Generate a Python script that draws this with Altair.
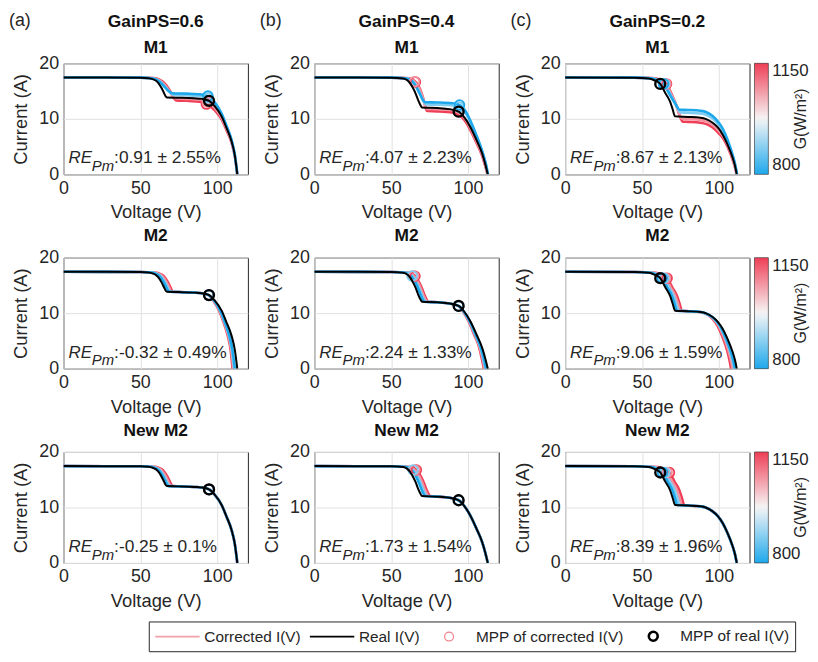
import altair as alt
import pandas as pd

# ---------------- values ----------------
X_TICKS = [0, 50, 100]
Y_TICKS = [0, 10, 20]
G_LEVELS = [1150, 1070, 880, 800]          # irradiance of the corrected curves (draw order)
COLS = ["a", "b", "c"]
GAIN_TITLES = ["GainPS=0.6", "GainPS=0.4", "GainPS=0.2"]
MODELS = ["M1", "M2", "New M2"]
RE_A = [":0.91 ± 2.55%", ":-0.32 ± 0.49%", ":-0.25 ± 0.1%"]
RE_B = [":4.07 ± 2.23%", ":2.24 ± 1.33%", ":1.73 ± 1.54%"]
RE_C = [":8.67 ± 2.13%", ":9.06 ± 1.59%", ":8.39 ± 1.96%"]
ITEMS = ["Corrected I(V)", "Real I(V)", "MPP of corrected I(V)", "MPP of real I(V)"]
G_TITLE = "G(W/m²)"

# real I(V) curves (V, I)
REAL_A = [(0, 17.45), (50, 17.42), (55.5, 17.32), (58, 17.15), (60, 16.9), (62, 16.35), (63.9, 15.5), (65.5, 14.6), (66.5, 14.05), (67.3, 13.85), (75, 13.8), (85, 13.7), (90, 13.6), (94.7, 13.25), (98.5, 12.25), (102.9, 10.45), (106, 8.4), (109.3, 6.0), (111.5, 3.4), (113.1, 0)]
REAL_B = [(0, 17.45), (50, 17.42), (57.9, 17.28), (60.5, 16.95), (62.5, 16.35), (64.3, 15.5), (66, 14.5), (67.5, 13.4), (69, 12.5), (70.1, 12.05), (80, 11.95), (88, 11.75), (93.9, 11.3), (97.5, 10.3), (101.8, 8.4), (105.5, 6.2), (109.3, 3.7), (111.3, 1.8), (112.9, 0)]
REAL_C = [(0, 17.45), (45, 17.42), (54.5, 17.28), (58, 16.95), (61.9, 16.3), (65.1, 14.7), (68.3, 13.1), (70, 11.7), (71.5, 10.45), (80, 10.35), (88, 10.2), (91.8, 9.95), (96, 9.3), (99.5, 8.4), (102.5, 7.2), (105.5, 5.5), (108.9, 3.1), (110.5, 1.6), (111.7, 0)]
MPP_REAL = [(94.7, 13.25), (93.9, 11.3), (61.9, 16.3)]

# corrected I(V) curves, GainPS = 0.6
A_M1_1150 = [(0, 17.45), (50, 17.42), (58.5, 17.37), (61.5, 17.2), (64.3, 16.75), (67, 16.0), (70, 14.7), (72.2, 13.6), (73.3, 13.32), (80, 13.25), (90, 13.0), (93, 12.65), (98.5, 11.55), (102.9, 9.9), (106, 8.0), (109.3, 5.7), (111.5, 3.2), (113.1, 0)]
A_M1_1070 = [(0, 17.45), (50, 17.42), (58, 17.35), (61, 17.15), (63.8, 16.7), (66.5, 15.9), (69.3, 14.8), (71.3, 13.95), (72.5, 13.7), (80, 13.6), (90, 13.4), (93.5, 13.05), (98.5, 11.95), (102.9, 10.2), (106, 8.25), (109.3, 5.85), (111.5, 3.3), (113.1, 0)]
A_M1_880 = [(0, 17.45), (50, 17.42), (57.5, 17.32), (60.5, 17.1), (63, 16.7), (65.6, 15.95), (68.2, 15.1), (70.3, 14.5), (71.5, 14.32), (80, 14.25), (90, 14.05), (94, 13.75), (98.5, 12.65), (102.9, 10.75), (106, 8.65), (109.3, 6.15), (111.5, 3.45), (113.1, 0)]
A_M1_800 = [(0, 17.45), (50, 17.42), (57, 17.32), (60, 17.1), (62.5, 16.7), (65, 16.0), (67.5, 15.25), (69.5, 14.8), (70.7, 14.62), (80, 14.55), (90, 14.4), (94, 14.1), (98.5, 12.95), (102.9, 10.95), (106, 8.8), (109.3, 6.25), (111.5, 3.5), (113.1, 0)]
A_M2_1150 = [(0, 17.45), (50, 17.42), (59.7, 17.32), (62.2, 17.15), (64.2, 16.9), (66.2, 16.35), (68.1, 15.5), (69.7, 14.6), (70.7, 14.05), (71.5, 13.85), (75, 13.8), (85, 13.7), (90, 13.6), (94.4, 13.25), (97.8, 12.15), (101.4, 10.35), (104.1, 8.4), (106.9, 5.9), (108.8, 3.3), (110, 0)]
A_M2_1070 = [(0, 17.45), (50, 17.42), (58.8, 17.32), (61.3, 17.15), (63.3, 16.9), (65.3, 16.35), (67.2, 15.5), (68.8, 14.6), (69.8, 14.05), (70.6, 13.85), (75, 13.8), (85, 13.7), (90, 13.6), (94.5, 13.25), (98, 12.15), (101.7, 10.35), (104.4, 8.4), (107.3, 5.9), (109.2, 3.3), (110.5, 0)]
A_M2_880 = [(0, 17.45), (50, 17.42), (57.8, 17.32), (60.3, 17.15), (62.3, 16.9), (64.3, 16.35), (66.2, 15.5), (67.8, 14.6), (68.8, 14.05), (69.6, 13.85), (75, 13.8), (85, 13.7), (90, 13.6), (94.5, 13.25), (98.2, 12.2), (102, 10.4), (104.8, 8.4), (107.7, 5.9), (109.6, 3.3), (111, 0)]
A_M2_800 = [(0, 17.45), (50, 17.42), (57, 17.32), (59.5, 17.15), (61.5, 16.9), (63.5, 16.35), (65.4, 15.5), (67, 14.6), (68, 14.05), (68.8, 13.85), (75, 13.8), (85, 13.7), (90, 13.6), (94.5, 13.25), (98.3, 12.2), (102.2, 10.4), (105, 8.4), (108, 5.9), (110, 3.3), (111.5, 0)]
A_NM2_1150 = [(0, 17.45), (50, 17.42), (59.3, 17.32), (61.8, 17.15), (63.8, 16.9), (65.8, 16.35), (67.7, 15.5), (69.3, 14.6), (70.3, 14.05), (71.1, 13.85), (75, 13.8), (85, 13.7), (90, 13.6), (94.7, 13.25), (98.5, 12.25), (102.9, 10.45), (106, 8.4), (109.3, 6.0), (111.5, 3.4), (113.1, 0)]
A_NM2_1070 = [(0, 17.45), (50, 17.42), (58.3, 17.32), (60.8, 17.15), (62.8, 16.9), (64.8, 16.35), (66.7, 15.5), (68.3, 14.6), (69.3, 14.05), (70.1, 13.85), (75, 13.8), (85, 13.7), (90, 13.6), (94.7, 13.25), (98.5, 12.25), (102.9, 10.45), (106, 8.4), (109.3, 6.0), (111.5, 3.4), (113.1, 0)]
A_NM2_880 = [(0, 17.45), (50, 17.42), (57.3, 17.32), (59.8, 17.15), (61.8, 16.9), (63.8, 16.35), (65.7, 15.5), (67.3, 14.6), (68.3, 14.05), (69.1, 13.85), (75, 13.8), (85, 13.7), (90, 13.6), (94.7, 13.25), (98.5, 12.25), (102.9, 10.45), (106, 8.4), (109.3, 6.0), (111.5, 3.4), (113.1, 0)]
A_NM2_800 = [(0, 17.45), (50, 17.42), (56.5, 17.32), (59, 17.15), (61, 16.9), (63, 16.35), (64.9, 15.5), (66.5, 14.6), (67.5, 14.05), (68.3, 13.85), (75, 13.8), (85, 13.7), (90, 13.6), (94.7, 13.25), (98.5, 12.25), (102.9, 10.45), (106, 8.4), (109.3, 6.0), (111.5, 3.4), (113.1, 0)]

# corrected I(V) curves, GainPS = 0.4
B_M1_1150 = [(0, 17.45), (50, 17.42), (61.7, 17.3), (64.5, 17.0), (66.7, 16.4), (68.7, 15.4), (70.5, 14.0), (72, 12.5), (72.9, 11.6), (73.5, 11.4), (80, 11.35), (90, 11.15), (93, 10.85), (97.5, 9.85), (101.8, 7.85), (105.5, 5.7), (109.3, 3.25), (111.1, 1.6), (112.7, 0)]
B_M1_1070 = [(0, 17.45), (50, 17.42), (61.2, 17.3), (64, 17.0), (66.2, 16.4), (68.2, 15.5), (70, 14.3), (71.6, 12.9), (72.5, 12.05), (73.1, 11.8), (80, 11.75), (90, 11.55), (93.5, 11.2), (97.5, 10.2), (101.8, 8.15), (105.5, 5.95), (109.3, 3.45), (111.2, 1.7), (112.8, 0)]
B_M1_880 = [(0, 17.45), (50, 17.42), (60.5, 17.28), (63.3, 16.95), (65.4, 16.35), (67.3, 15.5), (69, 14.5), (70.7, 13.35), (71.9, 12.8), (72.7, 12.6), (80, 12.55), (90, 12.4), (94, 12.15), (98, 11.2), (102, 9.1), (106, 6.5), (109.8, 3.6), (111.6, 1.85), (113, 0)]
B_M1_800 = [(0, 17.45), (50, 17.42), (60, 17.28), (62.8, 16.95), (64.9, 16.35), (66.8, 15.5), (68.5, 14.6), (70.2, 13.6), (71.4, 13.15), (72.2, 13.0), (80, 12.95), (90, 12.8), (94.5, 12.5), (98, 11.55), (102, 9.4), (106, 6.7), (109.8, 3.7), (111.6, 1.9), (113, 0)]
B_M2_1150 = [(0, 17.45), (50, 17.42), (61.9, 17.28), (64.5, 16.95), (66.5, 16.35), (68.3, 15.5), (70, 14.5), (71.5, 13.4), (73, 12.5), (74.1, 12.05), (80, 11.95), (88, 11.75), (93.7, 11.3), (96.8, 10.3), (100.6, 8.4), (103.9, 6.2), (107.4, 3.7), (109, 1.8), (110.4, 0)]
B_M2_1070 = [(0, 17.45), (50, 17.42), (61.1, 17.28), (63.7, 16.95), (65.7, 16.35), (67.5, 15.5), (69.2, 14.5), (70.7, 13.4), (72.2, 12.5), (73.3, 12.05), (80, 11.95), (88, 11.75), (93.8, 11.3), (97, 10.3), (100.9, 8.4), (104.3, 6.2), (107.8, 3.7), (109.5, 1.8), (110.9, 0)]
B_M2_880 = [(0, 17.45), (50, 17.42), (60.2, 17.28), (62.8, 16.95), (64.8, 16.35), (66.6, 15.5), (68.3, 14.5), (69.8, 13.4), (71.3, 12.5), (72.4, 12.05), (80, 11.95), (88, 11.75), (93.9, 11.3), (97.2, 10.3), (101.2, 8.4), (104.6, 6.2), (108.2, 3.7), (109.9, 1.8), (111.4, 0)]
B_M2_800 = [(0, 17.45), (50, 17.42), (59.4, 17.28), (62, 16.95), (64, 16.35), (65.8, 15.5), (67.5, 14.5), (69, 13.4), (70.5, 12.5), (71.6, 12.05), (80, 11.95), (88, 11.75), (93.9, 11.3), (97.3, 10.3), (101.4, 8.4), (104.9, 6.2), (108.5, 3.7), (110.3, 1.8), (111.8, 0)]
B_NM2_1150 = [(0, 17.45), (50, 17.42), (63.1, 17.28), (65.7, 16.95), (67.7, 16.35), (69.5, 15.5), (71.2, 14.5), (72.7, 13.4), (74.2, 12.5), (75.3, 12.05), (80, 11.95), (88, 11.75), (93.9, 11.3), (97.5, 10.3), (101.8, 8.4), (105.5, 6.2), (109.3, 3.7), (111.3, 1.8), (112.9, 0)]
B_NM2_1070 = [(0, 17.45), (50, 17.42), (62.1, 17.28), (64.7, 16.95), (66.7, 16.35), (68.5, 15.5), (70.2, 14.5), (71.7, 13.4), (73.2, 12.5), (74.3, 12.05), (80, 11.95), (88, 11.75), (93.9, 11.3), (97.5, 10.3), (101.8, 8.4), (105.5, 6.2), (109.3, 3.7), (111.3, 1.8), (112.9, 0)]
B_NM2_880 = [(0, 17.45), (50, 17.42), (60.9, 17.28), (63.5, 16.95), (65.5, 16.35), (67.3, 15.5), (69, 14.5), (70.5, 13.4), (72, 12.5), (73.1, 12.05), (80, 11.95), (88, 11.75), (93.9, 11.3), (97.5, 10.3), (101.8, 8.4), (105.5, 6.2), (109.3, 3.7), (111.3, 1.8), (112.9, 0)]
B_NM2_800 = [(0, 17.45), (50, 17.42), (59.9, 17.28), (62.5, 16.95), (64.5, 16.35), (66.3, 15.5), (68, 14.5), (69.5, 13.4), (71, 12.5), (72.1, 12.05), (80, 11.95), (88, 11.75), (93.9, 11.3), (97.5, 10.3), (101.8, 8.4), (105.5, 6.2), (109.3, 3.7), (111.3, 1.8), (112.9, 0)]

# corrected I(V) curves, GainPS = 0.2
C_M1_1150 = [(0, 17.45), (45, 17.42), (58.5, 17.3), (62, 16.98), (66, 16.3), (69.2, 14.5), (72.4, 12.4), (74.8, 10.4), (76.5, 9.5), (80, 9.45), (88, 9.3), (92, 9.05), (96, 8.45), (100, 7.4), (103, 6.4), (106, 4.8), (109, 2.6), (110.5, 1.3), (111.6, 0)]
C_M1_1070 = [(0, 17.45), (45, 17.42), (58, 17.3), (61.5, 16.98), (65.5, 16.3), (68.7, 14.6), (71.9, 12.7), (74.2, 10.9), (75.9, 10.05), (80, 9.98), (88, 9.8), (92, 9.55), (96, 8.9), (100, 7.85), (103, 6.8), (106, 5.1), (109, 2.8), (110.5, 1.4), (111.7, 0)]
C_M1_880 = [(0, 17.45), (45, 17.42), (57.2, 17.28), (60.7, 16.95), (64.7, 16.3), (67.9, 14.75), (71.1, 13.1), (73.3, 11.85), (75, 11.15), (80, 11.1), (88, 10.95), (92, 10.7), (96, 10.05), (100, 8.9), (103, 7.7), (106, 5.8), (109.2, 3.2), (110.7, 1.65), (111.9, 0)]
C_M1_800 = [(0, 17.45), (45, 17.42), (56.5, 17.28), (60, 16.95), (64, 16.3), (67.2, 14.8), (70.4, 13.3), (72.6, 12.3), (74.4, 11.65), (80, 11.6), (88, 11.45), (92, 11.2), (96, 10.5), (100, 9.3), (103, 8.0), (106, 6.0), (109.2, 3.3), (110.7, 1.7), (111.9, 0)]
C_M2_1150 = [(0, 17.45), (45, 17.42), (59, 17.28), (62.5, 16.95), (66.4, 16.3), (69.6, 14.7), (72.8, 13.1), (74.5, 11.7), (76, 10.45), (80, 10.35), (88, 10.2), (91, 9.95), (94.7, 9.3), (97.6, 8.4), (100.1, 7.2), (102.7, 5.5), (105.6, 3.1), (106.9, 1.6), (108, 0)]
C_M2_1070 = [(0, 17.45), (45, 17.42), (57.9, 17.28), (61.4, 16.95), (65.3, 16.3), (68.5, 14.7), (71.7, 13.1), (73.4, 11.7), (74.9, 10.45), (80, 10.35), (88, 10.2), (91.3, 9.95), (95.1, 9.3), (98.2, 8.4), (100.8, 7.2), (103.5, 5.5), (106.4, 3.1), (107.8, 1.6), (109, 0)]
C_M2_880 = [(0, 17.45), (45, 17.42), (56.8, 17.28), (60.3, 16.95), (64.2, 16.3), (67.4, 14.7), (70.6, 13.1), (72.3, 11.7), (73.8, 10.45), (80, 10.35), (88, 10.2), (91.5, 9.95), (95.5, 9.3), (98.7, 8.4), (101.4, 7.2), (104.2, 5.5), (107.3, 3.1), (108.8, 1.6), (110, 0)]
C_M2_800 = [(0, 17.45), (45, 17.42), (55.7, 17.28), (59.2, 16.95), (63.1, 16.3), (66.3, 14.7), (69.5, 13.1), (71.2, 11.7), (72.7, 10.45), (80, 10.35), (88, 10.2), (91.6, 9.95), (95.7, 9.3), (99, 8.4), (101.8, 7.2), (104.6, 5.5), (107.8, 3.1), (109.3, 1.6), (110.5, 0)]
C_NM2_1150 = [(0, 17.45), (45, 17.42), (60.5, 17.28), (64, 16.95), (67.9, 16.3), (71.1, 14.7), (74.3, 13.1), (76, 11.7), (77.5, 10.45), (80, 10.35), (88, 10.2), (91.8, 9.95), (96, 9.3), (99.5, 8.4), (102.5, 7.2), (105.5, 5.5), (108.9, 3.1), (110.5, 1.6), (111.7, 0)]
C_NM2_1070 = [(0, 17.45), (45, 17.42), (59, 17.28), (62.5, 16.95), (66.4, 16.3), (69.6, 14.7), (72.8, 13.1), (74.5, 11.7), (76, 10.45), (80, 10.35), (88, 10.2), (91.8, 9.95), (96, 9.3), (99.5, 8.4), (102.5, 7.2), (105.5, 5.5), (108.9, 3.1), (110.5, 1.6), (111.7, 0)]
C_NM2_880 = [(0, 17.45), (45, 17.42), (57.5, 17.28), (61, 16.95), (64.9, 16.3), (68.1, 14.7), (71.3, 13.1), (73, 11.7), (74.5, 10.45), (80, 10.35), (88, 10.2), (91.8, 9.95), (96, 9.3), (99.5, 8.4), (102.5, 7.2), (105.5, 5.5), (108.9, 3.1), (110.5, 1.6), (111.7, 0)]
C_NM2_800 = [(0, 17.45), (45, 17.42), (56, 17.28), (59.5, 16.95), (63.4, 16.3), (66.6, 14.7), (69.8, 13.1), (71.5, 11.7), (73, 10.45), (80, 10.35), (88, 10.2), (91.8, 9.95), (96, 9.3), (99.5, 8.4), (102.5, 7.2), (105.5, 5.5), (108.9, 3.1), (110.5, 1.6), (111.7, 0)]

# maximum power points of the corrected curves (G, V, I)
MPP_A_M1 = [(1150, 93, 12.65), (1070, 93.5, 13.05), (880, 94, 13.75), (800, 94, 14.1)]
MPP_A_M2 = [(1150, 94.4, 13.25), (1070, 94.5, 13.25), (880, 94.5, 13.25), (800, 94.5, 13.25)]
MPP_A_NM2 = [(1150, 94.7, 13.25), (1070, 94.7, 13.25), (880, 94.7, 13.25), (800, 94.7, 13.25)]
MPP_B_M1 = [(1150, 65.8, 16.65), (1070, 65.2, 16.67), (880, 94, 12.15), (800, 94.5, 12.5)]
MPP_B_M2 = [(1150, 65.5, 16.65), (1070, 64.6, 16.68), (880, 63.6, 16.71), (800, 93.9, 11.3)]
MPP_B_NM2 = [(1150, 66.4, 16.74), (1070, 65.4, 16.74), (880, 64.2, 16.74), (800, 93.9, 11.3)]
MPP_C_M1 = [(1150, 66, 16.3), (1070, 65.5, 16.3), (880, 64.7, 16.3), (800, 64, 16.3)]
MPP_C_M2 = [(1150, 66.4, 16.3), (1070, 65.3, 16.3), (880, 64.2, 16.3), (800, 63.1, 16.3)]
MPP_C_NM2 = [(1150, 67.9, 16.3), (1070, 66.4, 16.3), (880, 64.9, 16.3), (800, 63.4, 16.3)]

# ---------------- assembly ----------------
REALS = [REAL_A, REAL_B, REAL_C]
RES = [RE_A, RE_B, RE_C]
CORR = {
    ("a", "M1"): {1150: A_M1_1150, 1070: A_M1_1070, 880: A_M1_880, 800: A_M1_800},
    ("a", "M2"): {1150: A_M2_1150, 1070: A_M2_1070, 880: A_M2_880, 800: A_M2_800},
    ("a", "New M2"): {1150: A_NM2_1150, 1070: A_NM2_1070, 880: A_NM2_880, 800: A_NM2_800},
    ("b", "M1"): {1150: B_M1_1150, 1070: B_M1_1070, 880: B_M1_880, 800: B_M1_800},
    ("b", "M2"): {1150: B_M2_1150, 1070: B_M2_1070, 880: B_M2_880, 800: B_M2_800},
    ("b", "New M2"): {1150: B_NM2_1150, 1070: B_NM2_1070, 880: B_NM2_880, 800: B_NM2_800},
    ("c", "M1"): {1150: C_M1_1150, 1070: C_M1_1070, 880: C_M1_880, 800: C_M1_800},
    ("c", "M2"): {1150: C_M2_1150, 1070: C_M2_1070, 880: C_M2_880, 800: C_M2_800},
    ("c", "New M2"): {1150: C_NM2_1150, 1070: C_NM2_1070, 880: C_NM2_880, 800: C_NM2_800},
}
MPPS = {
    ("a", "M1"): MPP_A_M1, ("a", "M2"): MPP_A_M2, ("a", "New M2"): MPP_A_NM2,
    ("b", "M1"): MPP_B_M1, ("b", "M2"): MPP_B_M2, ("b", "New M2"): MPP_B_NM2,
    ("c", "M1"): MPP_C_M1, ("c", "M2"): MPP_C_M2, ("c", "New M2"): MPP_C_NM2,
}

W, H = 186, 112
TXT = "#262626"
XS = alt.Scale(domain=[0, 120], nice=False, zero=False)
YS = alt.Scale(domain=[0, 20], nice=False)
CSCALE = alt.Scale(domain=[800, 975, 1150], range=["#1ea8ec", "#f6f6f6", "#ef3e56"], interpolate="rgb")

# legend glyphs (unit symbol coordinates): a long line starting at the slot's left edge,
# and a small circle sitting in the middle of that line's length
LINE_GLYPH = "M-1,0H4.6"
CIRCLE_GLYPH = "M2.36,0A0.56,0.56 0 1,1 1.24,0A0.56,0.56 0 1,1 2.36,0Z"

G_LEGEND = alt.Legend(
    title=None, values=[800, 1150], format="d", orient="right", offset=5, direction="vertical",
    gradientLength=H, gradientThickness=14, gradientStrokeColor="#262626", gradientStrokeWidth=0.6,
    labelFontSize=17, labelColor=TXT, labelOffset=4, labelOverlap=False,
)
ITEM_LEGEND = alt.Legend(
    title=None, orient="none", legendX=86, legendY=563, direction="horizontal", columns=4,
    columnPadding=5, labelFontSize=15.5, labelColor=TXT, labelLimit=0, labelOffset=32,
    strokeColor="#262626", fillColor="white", padding=5,
)


def text_chart(label, px, py, size, style="normal", angle=0, align="left", baseline="alphabetic"):
    return alt.Chart(pd.DataFrame({"t": [label]})).mark_text(
        align=align, baseline=baseline, fontSize=size, fontStyle=style, color=TXT, angle=angle
    ).encode(text="t:N", x=alt.value(px), y=alt.value(py))


def panel(ci, ri):
    col, model = COLS[ci], MODELS[ri]
    curves = CORR[(col, model)]
    rows = []
    for g in G_LEVELS:
        for k, (v, cur) in enumerate(curves[g]):
            rows.append({"G": g, "V": v, "I": cur, "k": k})
    corr_df = pd.DataFrame(rows)
    real_df = pd.DataFrame([{"V": v, "I": cur, "k": k} for k, (v, cur) in enumerate(REALS[ci])])
    mppc_df = pd.DataFrame([{"G": g, "V": v, "I": cur} for g, v, cur in MPPS[(col, model)]])
    mppr_df = pd.DataFrame([{"V": MPP_REAL[ci][0], "I": MPP_REAL[ci][1]}])

    x = alt.X("V:Q", scale=XS, axis=alt.Axis(values=X_TICKS, title="Voltage (V)", labelFlush=False, titlePadding=6))
    y = alt.Y("I:Q", scale=YS, axis=alt.Axis(values=Y_TICKS, title="Current (A)", titlePadding=8))
    color = alt.Color("G:Q", scale=CSCALE, legend=(G_LEGEND if ci == 2 else None))

    layers = [
        alt.Chart(corr_df).mark_line(strokeWidth=2.6, interpolate="monotone", clip=True).encode(
            x=x, y=y, color=color, detail="G:N", order="k:Q"),
        alt.Chart(mppc_df).mark_point(filled=False, size=95, strokeWidth=1.8, opacity=1, clip=True).encode(
            x=x, y=y, color=color),
        alt.Chart(real_df).mark_line(color="black", strokeWidth=2, interpolate="monotone", clip=True).encode(
            x=x, y=y, order="k:Q"),
        alt.Chart(mppr_df).mark_point(filled=False, size=100, strokeWidth=2.4, color="black", opacity=1).encode(
            x=x, y=y),
        text_chart("RE", 5, 101, 17, "italic"),
        text_chart("Pm", 28.5, 108.5, 15, "italic"),
        text_chart(RES[ci][ri], 51, 101, 17.5),
    ]
    if ci == 2:
        layers.append(text_chart(G_TITLE, W + 52, H / 2, 16, angle=270, align="center", baseline="middle"))
    if ri == 0:
        layers.append(text_chart("(" + col + ")", -55, -52, 18, baseline="top"))
    if ci == 0 and ri == 2:
        dummy = alt.Data(values=[{"item": it, "V": None, "I": None} for it in ITEMS])
        layers.append(
            alt.Chart(dummy).mark_point(filled=False, opacity=1).encode(
                x=alt.X("V:Q", scale=XS),
                y=alt.Y("I:Q", scale=YS),
                shape=alt.Shape("item:N", scale=alt.Scale(domain=ITEMS, range=[LINE_GLYPH, LINE_GLYPH, CIRCLE_GLYPH, CIRCLE_GLYPH]), legend=ITEM_LEGEND),
                stroke=alt.Stroke("item:N", scale=alt.Scale(domain=ITEMS, range=["#f2a0aa", "#000000", "#f07f8d", "#000000"]), legend=ITEM_LEGEND),
                size=alt.Size("item:O", scale=alt.Scale(type="ordinal", domain=ITEMS, range=[256, 256, 256, 256]), legend=ITEM_LEGEND),
                strokeWidth=alt.StrokeWidth("item:O", scale=alt.Scale(type="ordinal", domain=ITEMS, range=[1.6, 1.6, 1.2, 2.6]), legend=ITEM_LEGEND),
            )
        )
    if ri == 0:
        title = alt.TitleParams(text=[GAIN_TITLES[ci], model], offset=-45)
    else:
        title = alt.TitleParams(text=model)
    return alt.layer(*layers).properties(width=W, height=H, title=title)


panels = [panel(ci, ri) for ri in range(3) for ci in range(3)]

chart = alt.concat(
    *panels, columns=3, spacing={"row": 84, "column": 67}, bounds="flush"
).resolve_scale(color="independent").properties(padding=0)

chart = chart.configure(font="Liberation Sans").configure_view(
    stroke="#262626", strokeWidth=1
).configure_axis(
    grid=True, gridColor="#e1e1e1", gridWidth=1, domain=False, ticks=False,
    labelFontSize=18, labelColor=TXT, labelPadding=5,
    titleFontSize=18.5, titleFontWeight="normal", titleColor=TXT, titlePadding=5,
).configure_title(
    fontSize=17.5, fontWeight="bold", color="#111111", offset=4, lineHeight=26
)

chart.save("out.html", embed_options={"renderer": "svg", "actions": False})
